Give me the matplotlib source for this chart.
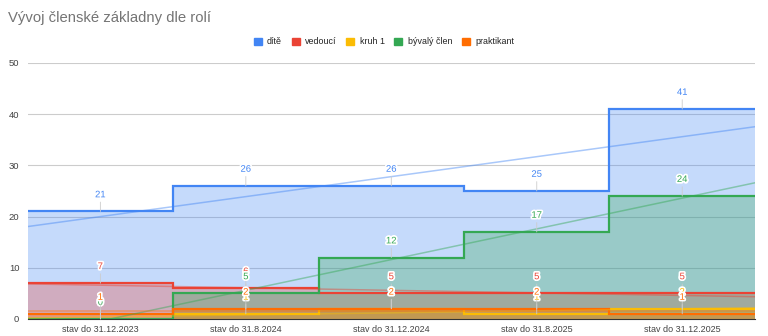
import matplotlib.pyplot as plt
import matplotlib.patheffects as pe
from matplotlib.patches import Patch
import numpy as np

plt.rcParams['font.family'] = ['Liberation Sans', 'DejaVu Sans']

# Stav členské základny k jednotlivým datům
categories = ['stav do 31.12.2023', 'stav do 31.8.2024', 'stav do 31.12.2024',
              'stav do 31.8.2025', 'stav do 31.12.2025']
dite = [21, 26, 26, 25, 41]
vedouci = [7, 6, 5, 5, 5]
kruh1 = [0, 1, 2, 1, 2]
byvaly = [0, 5, 12, 17, 24]
praktikant = [1, 2, 2, 2, 1]

series = [
    ('dítě', dite, '#4285F4'),
    ('vedoucí', vedouci, '#EA4335'),
    ('kruh 1', kruh1, '#FBBC04'),
    ('bývalý člen', byvaly, '#34A853'),
    ('praktikant', praktikant, '#FF6D01'),
]

fig = plt.figure(figsize=(7.68, 3.36), dpi=100)
ax = fig.add_axes([0.036, 0.0506, 0.947, 0.762])

x = np.arange(len(categories))
edges = np.arange(len(categories) + 1) - 0.5

for name, vals, color in series:
    ax.stairs(vals, edges, baseline=0, fill=True, color=color, alpha=0.3,
              linewidth=0, zorder=2)
    ax.stairs(vals, edges, baseline=None, color=color, linewidth=1.6, zorder=3)

# lineární trendy
xt = np.array([-0.5, 4.5])
for name, vals, color in series:
    k, q = np.polyfit(x, vals, 1)
    ax.plot(xt, k * xt + q, color=color, alpha=0.45, linewidth=1.1, zorder=4)

# popisky hodnot
for name, vals, color in series:
    for xi, v in zip(x, vals):
        ax.annotate(str(v), xy=(xi, v), xytext=(0, 12), textcoords='offset points',
                    ha='center', va='center', fontsize=6.8, color=color, zorder=6,
                    path_effects=[pe.withStroke(linewidth=2.5, foreground='white')],
                    arrowprops=dict(arrowstyle='-', color='#cccccc', lw=0.6,
                                    shrinkA=0, shrinkB=0))

ax.set_xlim(-0.5, 4.5)
ax.set_ylim(0, 50)
ax.set_yticks([0, 10, 20, 30, 40, 50])
ax.set_xticks(x)
ax.set_xticklabels(categories)
ax.tick_params(length=0, labelsize=6.5, colors='#444444', pad=4)
ax.tick_params(axis='y', labelsize=6.8, pad=6)
ax.grid(axis='y', color='#cccccc', linewidth=0.8, zorder=1)
ax.set_axisbelow(True)
for s in ['top', 'right', 'left']:
    ax.spines[s].set_visible(False)
ax.spines['bottom'].set_color('#333333')
ax.spines['bottom'].set_linewidth(0.8)

fig.text(0.011, 0.945, 'Vývoj členské základny dle rolí', fontsize=10.7,
         color='#757575', va='center', ha='left')

handles = [Patch(facecolor=c, edgecolor=c, label=n) for n, v, c in series]
fig.legend(handles=handles, loc='center', bbox_to_anchor=(0.5, 0.875), ncol=5,
           frameon=False, fontsize=6.4, handlelength=0.9, handleheight=0.9,
           handletextpad=0.6, columnspacing=1.1, labelcolor='#222222')

fig.savefig('out.png', dpi=100)
